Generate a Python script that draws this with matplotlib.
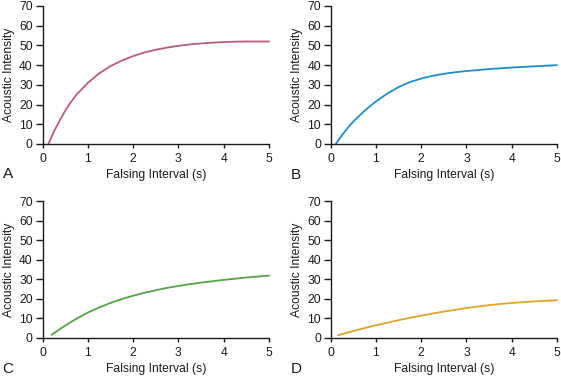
import matplotlib
matplotlib.use("Agg")
import matplotlib.pyplot as plt

plt.rcParams['font.family'] = ['Liberation Sans', 'DejaVu Sans']

# Data
a_x = [0.13, 0.25, 0.4, 0.5, 0.6, 0.75, 1.0, 1.25, 1.5, 1.75, 2.0, 2.25, 2.5,
       2.75, 3.0, 3.25, 3.5, 3.75, 4.0, 4.25, 4.5, 4.75, 5.0]
a_y = [0, 6.2, 12.8, 16.8, 20.4, 25.0, 31.0, 35.8, 39.5, 42.3, 44.6, 46.4, 47.8,
       48.9, 49.8, 50.5, 51.0, 51.4, 51.7, 51.9, 52.0, 52.0, 52.0]

b_x = [0.11, 0.25, 0.4, 0.5, 0.75, 1.0, 1.25, 1.5, 1.75, 2.0, 2.25, 2.5, 2.75,
       3.0, 3.5, 4.0, 4.5, 5.0]
b_y = [0, 4.5, 8.8, 11.4, 16.9, 21.6, 25.6, 28.9, 31.4, 33.2, 34.6, 35.6, 36.4,
       37.0, 38.0, 38.8, 39.4, 40.0]

c_x = [0.2, 0.4, 0.6, 0.8, 1.0, 1.25, 1.5, 1.75, 2.0, 2.25, 2.5, 2.75, 3.0,
       3.25, 3.5, 3.75, 4.0, 4.25, 4.5, 4.75, 5.0]
c_y = [1.6, 4.8, 7.8, 10.5, 13.0, 15.6, 17.9, 19.9, 21.6, 23.1, 24.4, 25.6, 26.6,
       27.5, 28.3, 29.0, 29.7, 30.3, 30.9, 31.4, 31.9]

d_x = [0.16, 0.5, 0.75, 1.0, 1.25, 1.5, 1.75, 2.0, 2.25, 2.5, 2.75, 3.0,
       3.25, 3.5, 3.75, 4.0, 4.25, 4.5, 4.75, 5.0]
d_y = [1.4, 3.6, 5.1, 6.5, 7.8, 9.1, 10.3, 11.4, 12.5, 13.5, 14.4, 15.3,
       16.1, 16.8, 17.4, 17.9, 18.3, 18.7, 19.0, 19.3]

panel_labels = ['A', 'B', 'C', 'D']
x_ticks = [0, 1, 2, 3, 4, 5]
y_ticks = [0, 10, 20, 30, 40, 50, 60, 70]
x_label = 'Falsing Interval (s)'
y_label = 'Acoustic Intensity'

series = [(a_x, a_y), (b_x, b_y), (c_x, c_y), (d_x, d_y)]
colors = ['#bd5a7c', '#1f8dca', '#53a543', '#e2a22a']

W, H = 561, 378
fig = plt.figure(figsize=(W / 100, H / 100), dpi=100)

# pixel boxes: (left, right, top, bottom, letter_y)
boxes = [
    (42.5, 269, 6, 144, 174),
    (330.7, 557, 6, 144, 175),
    (42.5, 269, 201, 338, 369),
    (330.7, 557, 201, 338, 369),
]

FS = 8.7
for (l, r, t, b, ly), (xs, ys), col, lab in zip(boxes, series, colors, panel_labels):
    ax = fig.add_axes([l / W, 1 - b / H, (r - l) / W, (b - t) / H])
    ax.plot(xs, ys, color=col, lw=1.3, clip_on=False, solid_capstyle='round',
            solid_joinstyle='round')
    ax.set_xlim(0, 5)
    ax.set_ylim(0, 70)
    ax.set_xticks(x_ticks)
    ax.set_yticks(y_ticks)
    for s in ['top', 'right']:
        ax.spines[s].set_visible(False)
    for s in ['left', 'bottom']:
        ax.spines[s].set_linewidth(1.0)
        ax.spines[s].set_color('#1a1a1a')
    ax.tick_params(axis='x', direction='out', length=3.2, width=1.0, labelsize=FS,
                   pad=3.5, colors='#1a1a1a')
    ax.tick_params(axis='y', direction='out', length=5.0, width=1.0, labelsize=FS,
                   pad=2.0, colors='#1a1a1a')
    ax.set_xlabel(x_label, fontsize=FS, labelpad=3, color='#1a1a1a')
    ax.set_ylabel(y_label, fontsize=FS, labelpad=3, color='#1a1a1a')
    ax.set_facecolor('none')
    fig.text((l - 40) / W, 1 - ly / H, lab, fontsize=11, va='center', ha='left',
             color='#1a1a1a')

fig.savefig('out.png', dpi=100)
